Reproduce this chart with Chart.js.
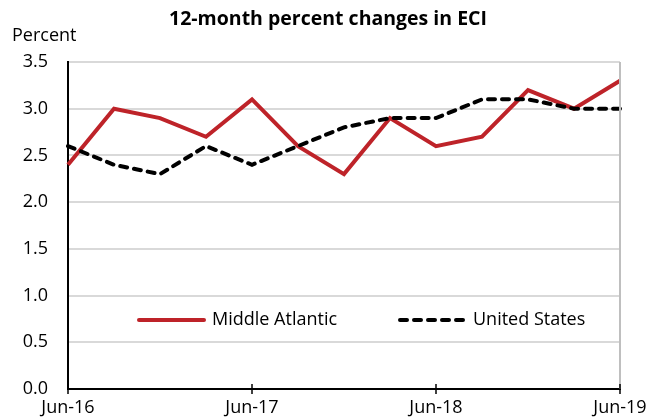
<!DOCTYPE html>
<html>
<head>
<meta charset="utf-8">
<script src="https://cdn.jsdelivr.net/npm/chart.js@4.4.0/dist/chart.umd.min.js"></script>
<style>
  html, body { margin: 0; padding: 0; background: #fff; }
  #wrap { width: 662px; height: 418px; }
</style>
</head>
<body>
<div id="wrap"><canvas id="eciChart" width="662" height="418"></canvas></div>
<script>
// quarterly 12-month percent changes, Jun-16 .. Jun-19
const quarters = ['Jun-16', 'Sep-16', 'Dec-16', 'Mar-17', 'Jun-17', 'Sep-17', 'Dec-17',
                  'Mar-18', 'Jun-18', 'Sep-18', 'Dec-18', 'Mar-19', 'Jun-19'];
const middleAtlantic = [2.4, 3.0, 2.9, 2.7, 3.1, 2.6, 2.3, 2.9, 2.6, 2.7, 3.2, 3.0, 3.3];
const unitedStates   = [2.6, 2.4, 2.3, 2.6, 2.4, 2.6, 2.8, 2.9, 2.9, 3.1, 3.1, 3.0, 3.0];
const yTicks = [0.0, 0.5, 1.0, 1.5, 2.0, 2.5, 3.0, 3.5];

const FONT = '"Open Sans", "DejaVu Sans", sans-serif';
const RED = '#BE2329';

// title, unit label, axis ticks, right border and the in-plot legend
const decorations = {
  id: 'decorations',
  afterDatasetsDraw(chart) {
    const ctx = chart.ctx;
    const area = chart.chartArea;
    const x = chart.scales.x;
    ctx.save();

    // grey right border
    ctx.strokeStyle = '#bfbfbf';
    ctx.lineWidth = 2;
    ctx.beginPath();
    ctx.moveTo(area.right, area.top);
    ctx.lineTo(area.right, area.bottom);
    ctx.stroke();

    // tick marks across the x axis at the labelled quarters
    ctx.strokeStyle = '#000';
    ctx.lineWidth = 1.5;
    quarters.forEach((q, i) => {
      if (i % 4 !== 0) return;
      const px = x.getPixelForValue(i);
      ctx.beginPath();
      ctx.moveTo(px, area.bottom - 5);
      ctx.lineTo(px, area.bottom + 5);
      ctx.stroke();
    });

    ctx.fillStyle = '#000';
    ctx.textBaseline = 'middle';
    ctx.font = 'bold 19.5px ' + FONT;
    ctx.textAlign = 'center';
    ctx.fillText('12-month percent changes in ECI', 328, 19);

    ctx.font = '18px ' + FONT;
    ctx.textAlign = 'left';
    ctx.fillText('Percent', 12, 36);

    // legend
    const ly = 320;
    const items = chart.data.datasets;
    const starts = [137, 398];
    items.forEach((ds, i) => {
      const sx = starts[i];
      ctx.strokeStyle = ds.borderColor;
      ctx.lineWidth = ds.borderWidth;
      ctx.lineCap = 'round';
      ctx.setLineDash(ds.borderDash || []);
      ctx.beginPath();
      ctx.moveTo(sx + 2, ly);
      ctx.lineTo(sx + 67, ly);
      ctx.stroke();
      ctx.setLineDash([]);
      ctx.fillStyle = '#000';
      ctx.font = '18px ' + FONT;
      ctx.fillText(ds.label, sx + 75, ly);
    });
    ctx.restore();
  }
};

new Chart(document.getElementById('eciChart').getContext('2d'), {
  type: 'line',
  data: {
    labels: quarters,
    datasets: [
      {
        label: 'Middle Atlantic',
        data: middleAtlantic,
        borderColor: RED,
        borderWidth: 4,
        pointRadius: 0,
        tension: 0,
        order: 2
      },
      {
        label: 'United States',
        data: unitedStates,
        borderColor: '#000',
        borderWidth: 4,
        borderDash: [7, 7],
        borderCapStyle: 'round',
        pointRadius: 0,
        tension: 0,
        order: 1
      }
    ]
  },
  options: {
    responsive: false,
    animation: false,
    layout: { padding: { top: 62, right: 42, left: 0, bottom: 0 } },
    plugins: {
      legend: { display: false },
      title: { display: false },
      tooltip: { enabled: false }
    },
    scales: {
      x: {
        type: 'category',
        offset: false,
        grid: { display: false },
        border: { color: '#000', width: 2 },
        ticks: {
          autoSkip: false,
          maxRotation: 0,
          padding: 0,
          color: '#000',
          font: { family: FONT, size: 18 },
          callback: (v, i) => (i % 4 === 0 ? quarters[i] : null)
        },
        afterFit: (s) => { s.height = 29; }
      },
      y: {
        min: 0,
        max: 3.5,
        afterBuildTicks: (s) => { s.ticks = yTicks.map(v => ({ value: v })); },
        grid: { color: '#d9d9d9', lineWidth: 2, drawTicks: false },
        border: { color: '#000', width: 2 },
        ticks: {
          padding: 20,
          color: '#000',
          font: { family: FONT, size: 18, lineHeight: 1 },
          callback: (v) => Number(v).toFixed(1)
        },
        afterFit: (s) => { s.width = 68; }
      }
    }
  },
  plugins: [decorations]
});
</script>
</body>
</html>
